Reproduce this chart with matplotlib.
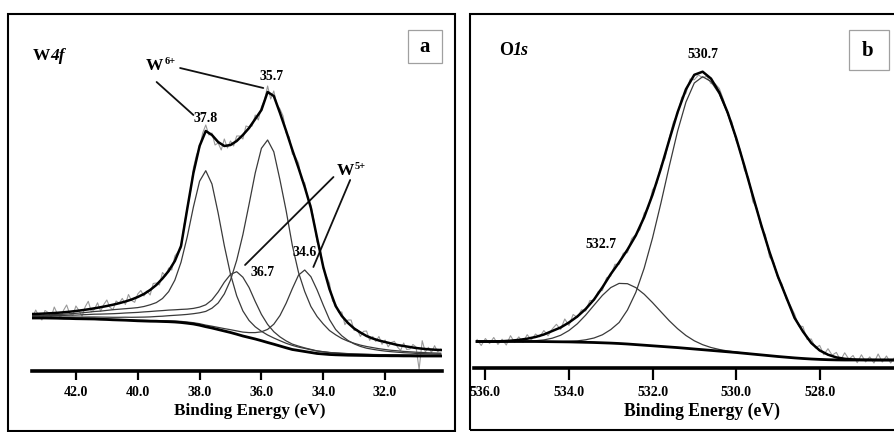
import matplotlib
matplotlib.use("Agg")
import matplotlib.pyplot as plt
from matplotlib.patches import Rectangle

FIG_W, FIG_H = 894, 432

# ---------------- panel a: W 4f (intensity in a.u.) ----------------
energy_a = [43.4, 43.2, 43.0, 42.8, 42.6, 42.4, 42.2, 42.0, 41.8, 41.6,
            41.4, 41.2, 41.0, 40.8, 40.6, 40.4, 40.2, 40.0, 39.8, 39.6,
            39.4, 39.2, 39.0, 38.8, 38.6, 38.4, 38.2, 38.0, 37.8, 37.6,
            37.4, 37.2, 37.0, 36.8, 36.6, 36.4, 36.2, 36.0, 35.8, 35.6,
            35.4, 35.2, 35.0, 34.8, 34.6, 34.4, 34.2, 34.0, 33.8, 33.6,
            33.4, 33.2, 33.0, 32.8, 32.6, 32.4, 32.2, 32.0, 31.8, 31.6,
            31.4, 31.2, 31.0, 30.8, 30.6, 30.4, 30.2]
background_a = [53.0, 53.0, 53.0, 52.9, 52.8, 52.6, 52.5, 52.3, 52.2, 52.1,
                52.0, 51.7, 51.5, 51.2, 51.0, 50.8, 50.5, 50.2, 50.0, 49.8,
                49.7, 49.5, 49.3, 49.0, 48.5, 47.8, 47.0, 45.8, 44.3, 43.0,
                41.5, 40.0, 38.5, 36.8, 35.0, 33.5, 32.0, 30.3, 28.5, 26.8,
                25.0, 23.2, 21.5, 20.5, 19.5, 18.5, 17.5, 17.0, 16.5, 16.2,
                16.0, 15.8, 15.7, 15.6, 15.5, 15.4, 15.3, 15.3, 15.2, 15.2,
                15.1, 15.1, 15.0, 15.0, 15.0, 15.0, 15.0]
w6_378 = [55.5, 55.7, 56.0, 56.2, 56.5, 56.8, 57.2, 57.7, 58.2, 58.8,
          59.5, 59.9, 60.6, 61.3, 61.8, 62.3, 62.8, 63.4, 64.5, 66.2,
          68.4, 72.5, 79.4, 90.9, 108.8, 134.1, 164.0, 189.8, 200.3, 187.0,
          158.0, 125.3, 96.8, 75.2, 60.1, 50.5, 44.2, 39.7, 36.0, 33.0,
          30.3, 27.7, 25.6, 23.9, 22.6, 21.2, 20.0, 19.2, 18.5, 18.1,
          17.7, 17.4, 17.1, 16.9, 16.7, 16.5, 16.4, 16.3, 16.2, 16.1,
          16.0, 15.9, 15.8, 15.8, 15.7, 15.7, 15.6]
w6_357 = [54.1, 54.1, 54.2, 54.2, 54.1, 54.0, 54.0, 53.9, 53.9, 54.0,
          54.0, 53.9, 53.8, 53.7, 53.7, 53.8, 53.7, 53.8, 53.9, 54.1,
          54.5, 54.8, 55.3, 55.7, 56.1, 56.6, 57.3, 58.2, 59.6, 62.8,
          68.0, 77.1, 90.9, 110.7, 136.3, 166.7, 198.1, 222.7, 231.0, 219.2,
          191.0, 160.2, 125.5, 98.5, 79.5, 64.5, 54.5, 47.0, 40.5, 36.2,
          32.5, 29.8, 27.7, 25.9, 24.5, 23.4, 22.3, 21.5, 20.7, 20.2,
          19.6, 19.2, 18.8, 18.5, 18.2, 18.0, 17.8]
w5_367 = [54.9, 55.1, 55.3, 55.4, 55.6, 55.6, 55.8, 55.9, 56.2, 56.5,
          56.8, 56.9, 57.1, 57.3, 57.6, 58.0, 58.3, 58.6, 59.1, 59.5,
          60.0, 60.4, 60.9, 61.2, 61.6, 61.9, 62.6, 63.9, 66.2, 71.1,
          79.0, 88.8, 96.6, 99.3, 93.8, 83.5, 69.5, 56.6, 46.6, 39.3,
          34.1, 30.1, 26.9, 24.9, 23.1, 21.6, 20.1, 19.3, 18.5, 18.0,
          17.6, 17.3, 17.0, 16.8, 16.6, 16.4, 16.3, 16.2, 16.1, 16.0,
          15.9, 15.8, 15.7, 15.6, 15.6, 15.6, 15.6]
w5_346 = [53.5, 53.5, 53.5, 53.4, 53.3, 53.1, 53.0, 52.8, 52.7, 52.6,
          52.5, 52.2, 52.0, 51.7, 51.5, 51.3, 51.1, 50.8, 50.7, 50.5,
          50.5, 50.3, 50.2, 50.0, 49.6, 49.0, 48.3, 47.3, 45.9, 44.8,
          43.6, 42.4, 41.3, 40.1, 38.9, 38.4, 38.4, 39.2, 41.6, 46.8,
          55.5, 67.8, 82.4, 95.9, 101.0, 94.3, 81.1, 65.9, 51.5, 41.5,
          35.2, 30.5, 27.1, 24.6, 22.8, 21.7, 20.7, 19.9, 19.3, 18.8,
          18.3, 18.0, 17.6, 17.4, 17.2, 17.0, 16.9]
envelope_a = [57.0, 57.2, 57.5, 57.8, 58.2, 58.7, 59.3, 60.0, 60.8, 61.7,
              62.7, 63.8, 65.0, 66.3, 67.8, 69.5, 71.5, 74.0, 77.0, 81.0,
              86.0, 92.5, 100.0, 110.0, 125.0, 162.0, 198.0, 225.0, 240.0, 236.0,
              229.0, 225.0, 226.0, 230.0, 236.0, 243.0, 252.0, 261.0, 279.0, 275.0,
              258.0, 240.0, 221.0, 203.0, 184.0, 163.0, 133.0, 104.0, 82.0, 65.0,
              55.0, 48.0, 42.5, 38.5, 35.0, 32.5, 30.5, 29.0, 27.5, 26.0,
              25.0, 24.0, 23.0, 22.3, 21.7, 21.3, 21.0]
raw_energy_a = [43.4, 43.3, 43.2, 43.1, 43.0, 42.9, 42.8, 42.7, 42.6, 42.5,
                42.4, 42.3, 42.2, 42.1, 42.0, 41.9, 41.8, 41.7, 41.6, 41.5,
                41.4, 41.3, 41.2, 41.1, 41.0, 40.9, 40.8, 40.7, 40.6, 40.5,
                40.4, 40.3, 40.2, 40.1, 40.0, 39.9, 39.8, 39.7, 39.6, 39.5,
                39.4, 39.3, 39.2, 39.1, 39.0, 38.9, 38.8, 38.7, 38.6, 38.5,
                38.4, 38.3, 38.2, 38.1, 38.0, 37.9, 37.8, 37.7, 37.6, 37.5,
                37.4, 37.3, 37.2, 37.1, 37.0, 36.9, 36.8, 36.7, 36.6, 36.5,
                36.4, 36.3, 36.2, 36.1, 36.0, 35.9, 35.8, 35.7, 35.6, 35.5,
                35.4, 35.3, 35.2, 35.1, 35.0, 34.9, 34.8, 34.7, 34.6, 34.5,
                34.4, 34.3, 34.2, 34.1, 34.0, 33.9, 33.8, 33.7, 33.6, 33.5,
                33.4, 33.3, 33.2, 33.1, 33.0, 32.9, 32.8, 32.7, 32.6, 32.5,
                32.4, 32.3, 32.2, 32.1, 32.0, 31.9, 31.8, 31.7, 31.6, 31.5,
                31.4, 31.3, 31.2, 31.1, 31.0, 30.9, 30.8, 30.7, 30.6, 30.5,
                30.4, 30.3, 30.2]
raw_a = [54, 61, 55, 51, 60.5, 58.6, 53.8, 64, 57.2, 53.4,
         60.7, 66, 57.3, 55.6, 65, 60.4, 54.8, 64.2, 69.7, 59.2,
         61.7, 68.2, 59.8, 66.4, 71, 63.6, 61.3, 70, 67.8, 72.6,
         66.5, 76.5, 70.5, 68.7, 77, 80.5, 75, 80, 76, 87.5,
         88, 86, 98.5, 95, 103, 101, 115, 119, 123, 146,
         163, 178, 203, 216, 223, 238, 246, 236, 238, 226,
         228, 221, 232, 223, 230, 225, 235, 235, 232, 245,
         244, 245, 256, 251, 264, 271, 285, 272, 280, 266,
         262, 255, 238, 234, 217, 214, 208, 191, 188, 172,
         166, 150, 129, 123, 102, 95, 88, 70, 67, 58.5,
         59, 46.3, 51, 51, 40.5, 41.4, 34.5, 39.7, 40, 30.7,
         34.5, 29.5, 34.5, 26.7, 31, 24.2, 28.5, 29.7, 24, 20.5,
         28, 21.5, 22, 26.5, 24, 1.6, 30.3, 19, 23.7, 18.5,
         25.3, 19.1, 22]
ticks_a = [42.0, 40.0, 38.0, 36.0, 34.0, 32.0]

# ---------------- panel b: O 1s (intensity in a.u.) ----------------
energy_b = [536.2, 536.0, 535.8, 535.6, 535.4, 535.2, 535.0, 534.8, 534.6, 534.4,
            534.2, 534.0, 533.8, 533.6, 533.4, 533.2, 533.0, 532.8, 532.6, 532.4,
            532.2, 532.0, 531.8, 531.6, 531.4, 531.2, 531.0, 530.8, 530.6, 530.4,
            530.2, 530.0, 529.8, 529.6, 529.4, 529.2, 529.0, 528.8, 528.6, 528.4,
            528.2, 528.0, 527.8, 527.6, 527.4, 527.2, 527.0, 526.8, 526.6, 526.4,
            526.2]
background_b = [26.0, 26.0, 26.0, 26.0, 26.0, 26.0, 26.0, 26.0, 25.9, 25.8,
                25.7, 25.6, 25.4, 25.2, 25.0, 24.7, 24.4, 24.0, 23.5, 22.9,
                22.3, 21.7, 21.1, 20.5, 19.9, 19.2, 18.5, 17.8, 17.1, 16.4,
                15.7, 15.0, 14.2, 13.4, 12.6, 11.8, 11.0, 10.3, 9.6, 9.0,
                8.5, 8.1, 7.8, 7.6, 7.5, 7.5, 7.5, 7.5, 7.5, 7.5,
                7.5]
o_5307 = [26.0, 26.0, 26.0, 26.0, 26.0, 26.0, 26.0, 26.0, 25.9, 25.8,
          25.8, 26.1, 26.6, 27.7, 29.5, 32.7, 37.9, 45.0, 57.5, 75.1,
          99.3, 129.5, 164.2, 201.1, 236.3, 265.4, 284.5, 290.8, 286.0, 273.4,
          254.0, 229.3, 201.2, 171.8, 142.8, 115.5, 91.2, 70.4, 49.6, 36.0,
          24.5, 17.1, 12.8, 10.1, 8.7, 8.0, 7.7, 7.6, 7.5, 7.5,
          7.5]
o_5327 = [26.0, 26.0, 26.0, 26.0, 26.0, 26.2, 26.4, 26.8, 27.6, 29.3,
          32.2, 37.0, 43.7, 52.4, 62.3, 72.1, 79.9, 84.1, 83.8, 79.9,
          73.3, 64.9, 55.8, 46.8, 38.8, 32.0, 26.7, 22.8, 20.0, 18.0,
          16.5, 15.4, 14.4, 13.4, 12.6, 11.8, 11.0, 10.3, 9.6, 9.0,
          8.5, 8.1, 7.8, 7.6, 7.5, 7.5, 7.5, 7.5, 7.5, 7.5,
          7.5]
envelope_b = [26.0, 26.0, 26.0, 26.3, 26.8, 27.6, 28.8, 30.5, 33.0, 36.5,
              40.0, 45.0, 51.0, 58.5, 68.0, 80.1, 93.4, 105.1, 117.8, 132.1,
              150.3, 172.7, 198.9, 227.4, 255.2, 278.2, 292.7, 295.8, 288.9, 275.0,
              254.8, 229.7, 201.4, 171.8, 142.8, 115.5, 91.2, 70.4, 49.6, 36.0,
              24.5, 17.1, 12.8, 10.1, 8.7, 8.0, 7.7, 7.6, 7.5, 7.5,
              7.5]
raw_energy_b = [536.2, 536.1, 536.0, 535.9, 535.8, 535.7, 535.6, 535.5, 535.4, 535.3,
                535.2, 535.1, 535.0, 534.9, 534.8, 534.7, 534.6, 534.5, 534.4, 534.3,
                534.2, 534.1, 534.0, 533.9, 533.8, 533.7, 533.6, 533.5, 533.4, 533.3,
                533.2, 533.1, 533.0, 532.9, 532.8, 532.7, 532.6, 532.5, 532.4, 532.3,
                532.2, 532.1, 532.0, 531.9, 531.8, 531.7, 531.6, 531.5, 531.4, 531.3,
                531.2, 531.1, 531.0, 530.9, 530.8, 530.7, 530.6, 530.5, 530.4, 530.3,
                530.2, 530.1, 530.0, 529.9, 529.8, 529.7, 529.6, 529.5, 529.4, 529.3,
                529.2, 529.1, 529.0, 528.9, 528.8, 528.7, 528.6, 528.5, 528.4, 528.3,
                528.2, 528.1, 528.0, 527.9, 527.8, 527.7, 527.6, 527.5, 527.4, 527.3,
                527.2, 527.1, 527.0, 526.9, 526.8, 526.7, 526.6, 526.5, 526.4, 526.3,
                526.2]
raw_b = [28, 22, 29, 24, 30, 23.1, 28.3, 22.5, 31.8, 25.2,
         30.6, 25.2, 32.8, 27.6, 33.5, 30.7, 37, 31.7, 38.5, 43.2,
         38, 48.5, 42, 53, 50, 57.7, 56.5, 67, 67, 76,
         77.1, 89.7, 91.4, 103.2, 103.1, 114.4, 114.8, 128.8, 133.1, 138,
         154.3, 159.3, 177.7, 183.6, 201.9, 209, 229.4, 245.5, 253.2, 270.3,
         274.2, 288.5, 287.7, 292.5, 289.8, 291.2, 283.9, 283.6, 279, 267.5,
         252.8, 245.7, 226.7, 217.8, 197.4, 189.7, 165.8, 159.2, 139.8, 133,
         110.5, 105.1, 89.2, 83.5, 68.4, 62, 53.6, 41.5, 41, 28,
         28.5, 19.5, 22.1, 12.8, 18.8, 12.3, 15.1, 7.3, 14.7, 8.3,
         12, 4.8, 12.7, 5.6, 10.6, 4.5, 13.5, 5.5, 11.5, 4.5,
         10.5]
ticks_b = [536.0, 534.0, 532.0, 530.0, 528.0]

SERIF = "Liberation Serif"
RAW_COLOR = "#9a9a9a"
COMP_COLOR = "#3a3a3a"


def fig_rect(x0, y0, x1, y1):
    """Pixel box (origin top-left) -> [left, bottom, width, height] in figure fraction."""
    return [x0 / FIG_W, 1 - y1 / FIG_H, (x1 - x0) / FIG_W, (y1 - y0) / FIG_H]


def add_frame(fig, x0, y0, x1, y1, color="black", lw=1.5):
    l, b, w, h = fig_rect(x0, y0, x1, y1)
    fig.add_artist(Rectangle((l, b), w, h, transform=fig.transFigure,
                             fill=False, ec=color, lw=lw))


def style_axis(ax, xlim, ylim, ticks, tick_len, label_pos, label_size):
    ax.set_xlim(*xlim)
    ax.set_ylim(*ylim)
    for side in ("left", "right", "top"):
        ax.spines[side].set_visible(False)
    ax.spines["bottom"].set_linewidth(2.6)
    ax.set_yticks([])
    ax.set_xticks(ticks)
    ax.set_xticklabels([f"{t:.1f}" for t in ticks], fontfamily=SERIF,
                       fontweight="bold", fontsize=10)
    ax.tick_params(axis="x", direction="out", length=tick_len, width=1.6, pad=4.5)
    ax.set_xlabel("Binding Energy (eV)", fontfamily=SERIF, fontweight="bold",
                  fontsize=label_size)
    ax.xaxis.set_label_coords(*label_pos)
    ax.patch.set_alpha(0)


def draw_spectrum(ax, energy, comps, background, envelope, raw_energy, raw):
    ax.plot(raw_energy, raw, color=RAW_COLOR, lw=0.8, zorder=1)
    for comp in comps:
        ax.plot(energy, comp, color=COMP_COLOR, lw=0.9, zorder=2)
    ax.plot(energy, background, color="black", lw=2.0, zorder=3)
    ax.plot(energy, envelope, color="black", lw=1.8, zorder=4)


def label_text(ax, x, y, main, rest, size, rest_italic=True, transform=None):
    t = ax.text(x, y, main, fontfamily=SERIF, fontweight="bold", fontsize=size,
                ha="left", va="baseline",
                transform=transform if transform is not None else ax.transData)
    ax.annotate(rest, xy=(1, 0), xycoords=t, va="bottom", ha="left",
                fontfamily=SERIF, fontweight="bold", fontsize=size,
                style="italic" if rest_italic else "normal")
    return t


def ion_label(ax, x, y, charge):
    t = ax.text(x, y, "W", fontfamily=SERIF, fontweight="bold", fontsize=12.5,
                ha="left", va="baseline")
    ax.annotate(charge, xy=(1, 1), xycoords=t, xytext=(0.5, 1),
                textcoords="offset points", va="top", ha="left",
                fontfamily=SERIF, fontweight="bold", fontsize=7.5)


def leader(ax, start, end):
    ax.annotate("", xy=end, xytext=start,
                arrowprops=dict(arrowstyle="-", color="#111111", lw=1.3,
                                shrinkA=0, shrinkB=0))


def peak_text(ax, x, y, s):
    ax.text(x, y, s, fontfamily=SERIF, fontweight="bold", fontsize=10,
            ha="center", va="center")


fig = plt.figure(figsize=(FIG_W / 100, FIG_H / 100), dpi=100)
fig.patch.set_facecolor("white")

add_frame(fig, 8, 14, 455, 431)
add_frame(fig, 469.5, 14, 900, 430)

# ---- panel a ----
ax_a = fig.add_axes(fig_rect(32, 14, 442, 371))
draw_spectrum(ax_a, energy_a, [w6_378, w6_357, w5_367, w5_346],
              background_a, envelope_a, raw_energy_a, raw_a)
style_axis(ax_a, (43.42, 30.16), (0, 357), ticks_a, 6.5, (0.53, -0.09), 12.3)

label_text(ax_a, 0.003, 0.871, "W", "4f", 12.5, transform=ax_a.transAxes)
peak_text(ax_a, 37.79, 253, "37.8")
peak_text(ax_a, 35.66, 294, "35.7")
peak_text(ax_a, 35.96, 98.5, "36.7")
peak_text(ax_a, 34.60, 119, "34.6")
ion_label(ax_a, 39.73, 301, "6+")
ion_label(ax_a, 33.56, 196, "5+")
leader(ax_a, (39.39, 289), (38.20, 256))
leader(ax_a, (38.63, 303), (35.94, 283))
leader(ax_a, (33.67, 194), (36.53, 106))
leader(ax_a, (33.13, 191), (34.32, 104))

add_frame(fig, 408, 30, 442, 63, color="#a0a0a0", lw=0.9)
fig.text(425 / FIG_W, 1 - 47 / FIG_H, "a", fontfamily=SERIF, fontweight="bold",
         fontsize=15, ha="center", va="center")

# ---- panel b ----
ax_b = fig.add_axes(fig_rect(473.7, 14, 894, 367.5))
draw_spectrum(ax_b, energy_b, [o_5307, o_5327], background_b, envelope_b,
              raw_energy_b, raw_b)
style_axis(ax_b, (536.28, 526.22), (0, 353.5), ticks_b, 8.5, (0.543, -0.1), 12.7)

label_text(ax_b, 0.06, 0.884, "O", "1s", 13, transform=ax_b.transAxes)
peak_text(ax_b, 530.80, 312.5, "530.7")
peak_text(ax_b, 533.23, 122.5, "532.7")

add_frame(fig, 849, 30, 889, 70, color="#a0a0a0", lw=0.9)
fig.text(868 / FIG_W, 1 - 51 / FIG_H, "b", fontfamily=SERIF, fontweight="bold",
         fontsize=15, ha="center", va="center")

fig.savefig("out.png", dpi=100, facecolor="white")
